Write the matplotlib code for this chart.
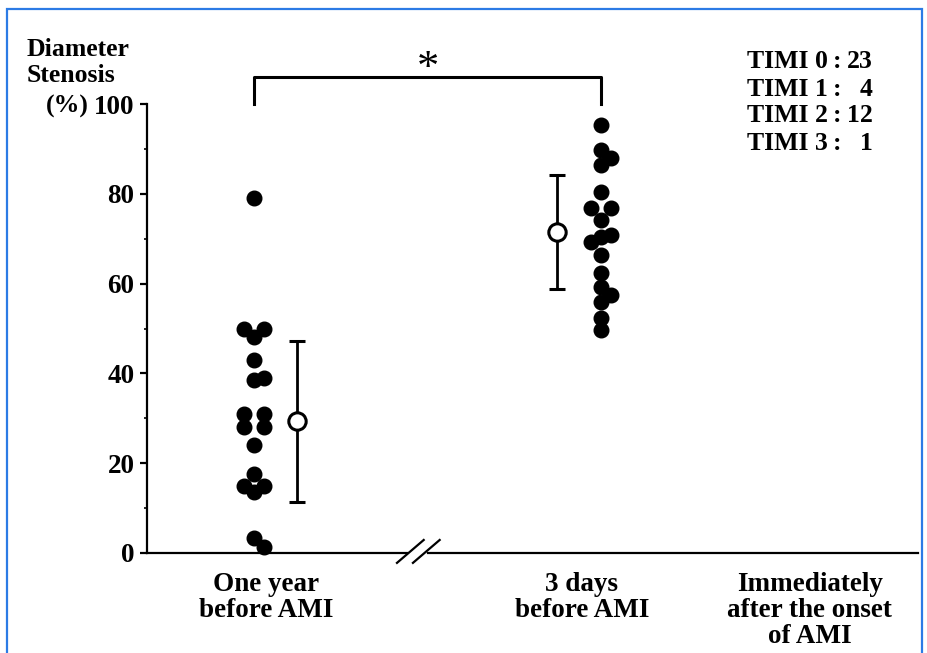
import matplotlib
matplotlib.use("Agg")
import matplotlib.pyplot as plt
from matplotlib.patches import Rectangle
from matplotlib.ticker import MultipleLocator

plt.rcParams['font.family'] = ['Liberation Serif', 'DejaVu Serif']
plt.rcParams['font.weight'] = 'bold'

# ---- data -------------------------------------------------------------
categories = ["One year\nbefore AMI", "3 days\nbefore AMI",
              "Immediately\nafter the onset\nof AMI"]

# % diameter stenosis of each lesion
one_year = [79, 50, 50, 48, 43, 38.5, 39, 31, 31, 28, 28, 24,
            17.5, 15, 15, 13.5, 3.3, 1.3]
three_days = [95.3, 89.8, 88, 86.4, 80.4, 76.8, 76.8, 74.2, 70.8, 70.4,
              69.3, 66.4, 62.4, 59.2, 57.5, 55.9, 52.3, 49.7]

# summary: mean and SD per time point
means = [29.3, 71.5]
sds = [18.0, 12.6]

timi_grades = ["TIMI 0", "TIMI 1", "TIMI 2", "TIMI 3"]
timi_counts = [23, 4, 12, 1]

y_ticks = [0, 20, 40, 60, 80, 100]

# ---- layout -------------------------------------------------------------
# side-by-side column of each dot within its swarm (-1 left, 0 centre, 1 right)
one_year_cols = [0, -1, 1, 0, 0, 0, 1, -1, 1, -1, 1, 0, 0, -1, 1, 0, 0, 1]
three_days_cols = [0, 0, 1, 0, 0, -1, 1, 0, 1, 0, -1, 0, 0, 0, 1, 0, 0, 0]
col_step = 0.028
dot_x = [1.0, 2.0]
mean_x = [1.124, 1.873]
label_x = [1.035, 1.945, 2.602]
xlim = (0.6916, 2.9135)
break_gap = (1.441, 1.501)

W, H, DPI = 928, 653, 100
fig = plt.figure(figsize=(W / DPI, H / DPI), dpi=DPI)
fig.patch.set_facecolor("white")

def fx(px):
    return px / W

def fy(py):
    return 1 - py / H

ax = fig.add_axes([fx(147), fy(553), fx(918) - fx(147), fy(104) - fy(553)])
ax.set_xlim(*xlim)
ax.set_ylim(0, 100)

for s in ("top", "right", "bottom"):
    ax.spines[s].set_visible(False)
ax.spines["left"].set_linewidth(1.6)

ax.yaxis.set_major_locator(MultipleLocator(20))
ax.yaxis.set_minor_locator(MultipleLocator(10))
ax.set_yticks(y_ticks)
ax.set_yticklabels([str(t) for t in y_ticks])
ax.tick_params(axis="y", which="major", direction="out", length=5, width=1.6,
               pad=4, labelsize=19.5)
ax.tick_params(axis="y", which="minor", direction="out", length=2.5, width=1.2)

ax.set_xticks(label_x)
ax.set_xticklabels(categories)
ax.tick_params(axis="x", length=0, pad=14, labelsize=19.5)
plt.setp(ax.get_xticklabels(), linespacing=1.05)

# broken x axis
xt = ax.get_xaxis_transform()
ax.plot([xlim[0], break_gap[0]], [0, 0], color="black", lw=1.6,
        transform=xt, clip_on=False)
ax.plot([break_gap[1], xlim[1]], [0, 0], color="black", lw=1.6,
        transform=xt, clip_on=False)
for x0 in (1.412, 1.458):
    ax.plot([x0, x0 + 0.077], [-2.2, 2.9], color="black", lw=1.6, clip_on=False)

# individual lesions
for vals, cols, xc in ((one_year, one_year_cols, dot_x[0]),
                       (three_days, three_days_cols, dot_x[1])):
    xs = [xc + c * col_step for c in cols]
    ax.plot(xs, vals, "o", ms=10.5, color="black", mec="black",
            clip_on=False, zorder=3)

# mean +/- SD
ax.errorbar(mean_x, means, yerr=sds, fmt="o", ms=12.5, mfc="white",
            mec="black", mew=2.2, ecolor="black", elinewidth=2.0,
            capsize=6, capthick=2.2, zorder=4)

# significance bracket
ax.plot([dot_x[0], dot_x[0], dot_x[1], dot_x[1]], [100, 106, 106, 100],
        color="black", lw=2.2, clip_on=False)
ax.text((dot_x[0] + dot_x[1]) / 2, 107.8, "*", ha="center", va="center",
        fontsize=32, fontweight="normal")

# axis title
fig.text(fx(27), fy(49), "Diameter", ha="left", va="center", fontsize=18.5)
fig.text(fx(27), fy(75), "Stenosis", ha="left", va="center", fontsize=18.5)
fig.text(fx(46), fy(106), "(%)", ha="left", va="center", fontsize=18.5)

# TIMI grade counts
for i, (g, n) in enumerate(zip(timi_grades, timi_counts)):
    yy = fy(62 + 27 * i)
    fig.text(fx(747), yy, g, ha="left", va="center", fontsize=18.5)
    fig.text(fx(837), yy, ":", ha="center", va="center", fontsize=18.5)
    fig.text(fx(873), yy, str(n), ha="right", va="center", fontsize=18.5)

# outer frame
fig.add_artist(Rectangle((fx(7), -0.05), fx(922) - fx(7), fy(9) + 0.05,
                         transform=fig.transFigure, fill=False,
                         edgecolor="#2c7be5", lw=1.6))

fig.savefig("out.png", dpi=DPI)
